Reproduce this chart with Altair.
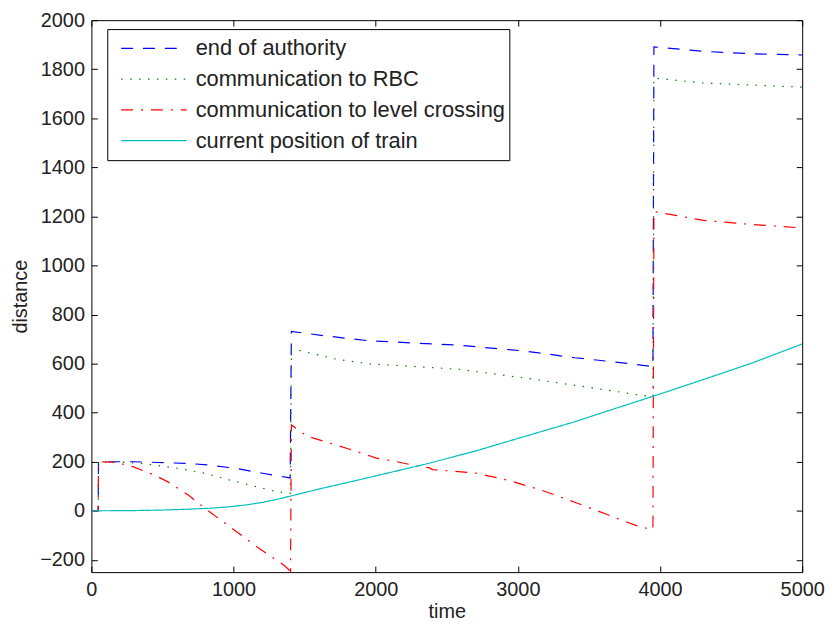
import altair as alt
import pandas as pd

SERIES = ["end of authority", "communication to RBC",
          "communication to level crossing", "current position of train"]
COLORS = ["#0000ff", "#008000", "#ff0000", "#00bfbf"]
DASHES = [[12, 10], [1.5, 7.5], [12, 8, 2, 8], [1, 0]]

X_TICKS = [0, 1000, 2000, 3000, 4000, 5000]
Y_TICKS = [-200, 0, 200, 400, 600, 800, 1000, 1200, 1400, 1600, 1800, 2000]

eoa_t = [0, 48, 50, 300, 473, 682, 815, 1017, 1204, 1398, 1407, 1634, 1936, 2300, 2587,
         3052, 3400, 3678, 3950, 3957, 4305, 4650, 5000]
eoa_v = [0, 0, 200, 200, 197, 193, 187, 173, 153, 134, 731, 714, 694, 683, 675,
         651, 624, 607, 588, 1891, 1873, 1863, 1858]

rbc_t = [0, 48, 50, 200, 368, 612, 798, 982, 1169, 1309, 1400, 1407, 1470, 1705, 1936,
         2587, 3052, 3516, 3864, 3950, 3957, 4305, 5000]
rbc_v = [0, 0, 200, 199, 192, 173, 153, 124, 97, 77, 72, 655, 653, 620, 600,
         577, 541, 502, 471, 466, 1764, 1744, 1727]

lc_t = [0, 48, 50, 150, 275, 449, 542, 682, 821, 937, 1169, 1355, 1390, 1400, 1407,
        1518, 1817, 2005, 2150, 2308, 2380, 2400, 2470, 2703, 2842, 2935, 3168, 3400,
        3632, 3864, 3950, 3957, 4305, 4650, 5000]
lc_v = [0, 0, 200, 198, 184, 144, 117, 64, 0, -49, -149, -222, -240, -300, 350,
        304, 251, 215, 200, 180, 175, 168, 165, 154, 136, 124, 84, 35,
        -16, -67, -75, 1220, 1184, 1167, 1153]

train_t = [0, 50, 300, 500, 700, 850, 1000, 1100, 1200, 1300, 1400, 1610, 1843, 2005,
           2356, 2704, 3000, 3400, 3700, 3953, 4305, 4650, 5000]
train_v = [0, 0, 1, 3, 7, 11, 18, 25, 34, 46, 60, 90, 121, 143,
           191, 244, 295, 363, 420, 467, 535, 603, 680]

rows = []
for name, ts, vs in [(SERIES[0], eoa_t, eoa_v), (SERIES[1], rbc_t, rbc_v),
                     (SERIES[2], lc_t, lc_v), (SERIES[3], train_t, train_v)]:
    for i, (t, v) in enumerate(zip(ts, vs)):
        rows.append({"series": name, "time": t, "distance": v, "idx": i})
df = pd.DataFrame(rows)

FONT = "Liberation Sans"
TXT = "#222222"

x_scale = alt.Scale(domain=[0, 5000], nice=False, zero=False)
y_scale = alt.Scale(domain=[-250, 2000], nice=False, zero=False)

leg = alt.Legend(orient="none", legendX=16, legendY=9, strokeColor="black",
                 fillColor="white", padding=4, symbolType="stroke",
                 symbolSize=4356, symbolStrokeWidth=1.2, symbolOffset=9,
                 labelOffset=8, labelFontSize=22, labelFont=FONT,
                 labelColor=TXT, clipHeight=30.7, rowPadding=0, labelLimit=600)

lines = alt.Chart(df).mark_line(strokeWidth=1.2, clip=True).encode(
    x=alt.X("time:Q", scale=x_scale,
            axis=alt.Axis(title="time", values=X_TICKS, offset=-6, domain=False,
                          tickSize=6, labelPadding=8, titlePadding=2, grid=False,
                          labelFlush=False, format="d")),
    y=alt.Y("distance:Q", scale=y_scale,
            axis=alt.Axis(title="distance", values=Y_TICKS, offset=-6, domain=False,
                          tickSize=6, labelPadding=7, titlePadding=9, grid=False,
                          labelFlush=False, format="d")),
    color=alt.Color("series:N", scale=alt.Scale(domain=SERIES, range=COLORS),
                    sort=SERIES, legend=leg, title=None),
    strokeDash=alt.StrokeDash("series:N", scale=alt.Scale(domain=SERIES, range=DASHES),
                              sort=SERIES, legend=leg, title=None),
    order="idx:Q",
)

frame = alt.Chart(df).mark_line(opacity=0).encode(
    x=alt.X("time:Q", scale=x_scale,
            axis=alt.Axis(orient="top", labels=False, title="", values=X_TICKS,
                          offset=-6, domain=False, tickSize=6, grid=False)),
    y=alt.Y("distance:Q", scale=y_scale,
            axis=alt.Axis(orient="right", labels=False, title="", values=Y_TICKS,
                          offset=-6, domain=False, tickSize=6, grid=False)),
    detail="series:N",
    order="idx:Q",
)

chart = alt.layer(lines, frame).resolve_axis(x="independent", y="independent").properties(
    width=716, height=556, autosize="none",
    padding={"left": 84, "top": 10, "right": 26, "bottom": 52},
).configure_view(stroke="black", strokeWidth=1).configure_axis(
    labelFont=FONT, labelFontSize=20, labelColor=TXT,
    titleFont=FONT, titleFontSize=20, titleFontWeight="normal", titleColor=TXT,
    tickColor="black", tickWidth=1,
)

chart.save("out.html", embed_options={"renderer": "svg", "actions": False})
